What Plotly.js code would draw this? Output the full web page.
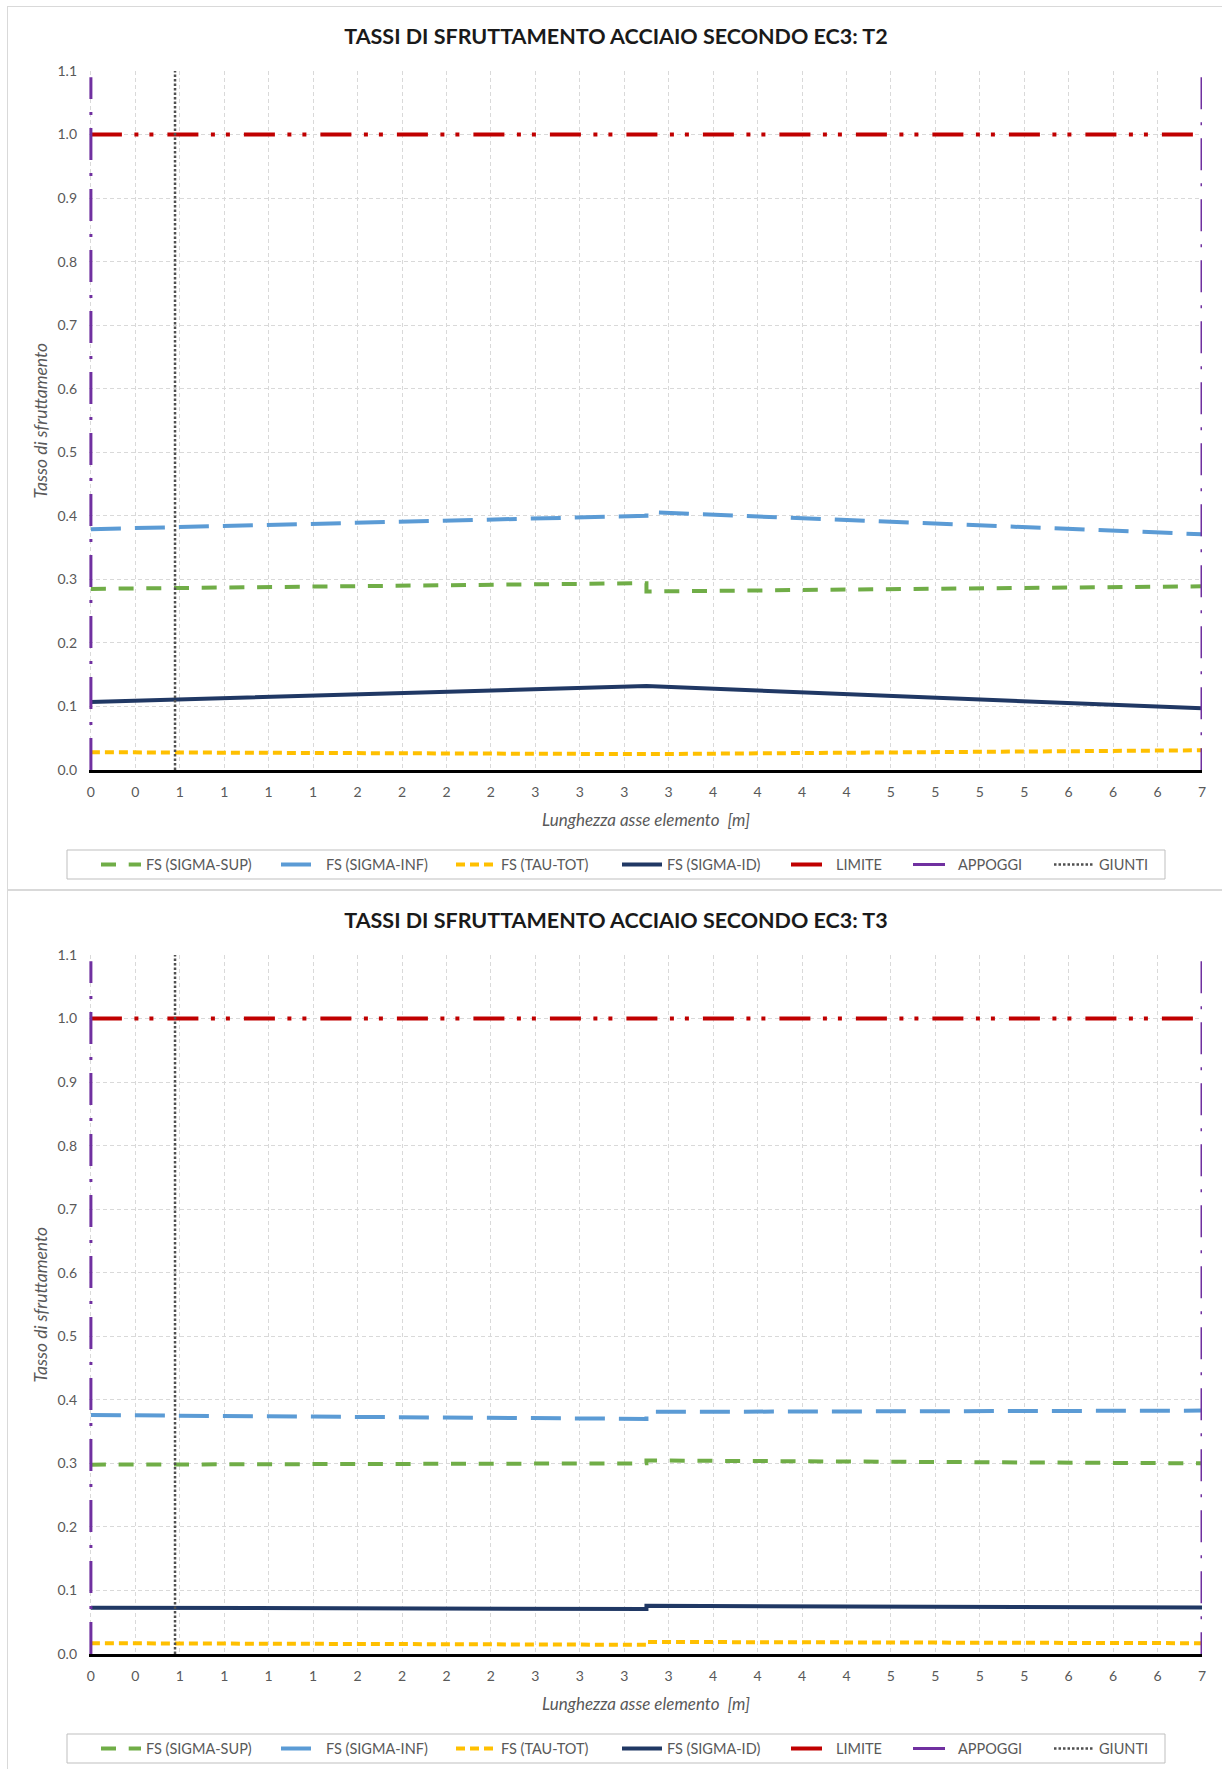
<!DOCTYPE html>
<html>
<head>
<meta charset="utf-8">
<script src="https://cdn.plot.ly/plotly-3.0.1.min.js"></script>
<style>
  html, body { margin: 0; padding: 0; background: #ffffff; width: 1222px; height: 1769px; overflow: hidden; }
  .card { position: absolute; left: 7px; width: 1240px; height: 884px; border: 1px solid #d9d9d9; box-sizing: border-box; }
  .plot { position: absolute; left: 0; width: 1222px; height: 884px; }
</style>
</head>
<body>
<div class="card" style="top:6px"></div>
<div class="card" style="top:890px"></div>
<div id="chartT2" class="plot" style="top:6px"></div>
<div id="chartT3" class="plot" style="top:890px"></div>
<script>
// ---------- DATA ----------
const X_TICK_LABELS = ["0","0","1","1","1","1","2","2","2","2","3","3","3","3","4","4","4","4","5","5","5","5","6","6","6","7"];
const X_LENGTH_M = 7;

// positions along the element [m]
const X_JUMP = [0, 3.5, 3.5, 7];
const X_KINK = [0, 3.5, 7];

// T2
const T2_SIGMA_SUP = [0.285, 0.294, 0.281, 0.289];
const T2_SIGMA_INF = [0.379, 0.400, 0.406, 0.371];
const T2_TAU_TOT   = [0.028, 0.025, 0.031];
const T2_SIGMA_ID  = [0.107, 0.132, 0.097];

// T3
const T3_SIGMA_SUP = [0.298, 0.300, 0.3045, 0.300];
const T3_SIGMA_INF = [0.376, 0.370, 0.381, 0.383];
const T3_TAU_TOT   = [0.017, 0.0145, 0.019, 0.017];
const T3_SIGMA_ID  = [0.0728, 0.0708, 0.0758, 0.073];

// reference lines
const LIMITE_X  = [0, 7];
const LIMITE_Y  = [1.0, 1.0];
const APPOGGI_X = [0, 0, null, 7, 7];
const APPOGGI_Y = [0, 1.09, null, 1.09, 0];
const GIUNTI_X  = [0.53, 0.53];
const GIUNTI_Y  = [0, 1.1];

const SERIES_NAMES = ["FS (SIGMA-SUP)", "FS (SIGMA-INF)", "FS (TAU-TOT)", "FS (SIGMA-ID)", "LIMITE", "APPOGGI", "GIUNTI"];

// ---------- STYLE ----------
const FONT = 'Lato, "Open Sans", "Liberation Sans", sans-serif';
const TXT = '#595959';
const W = 1222, H = 884;
const M = { l: 89, r: 20, t: 65, b: 120, autoexpand: false };
const PW = W - M.l - M.r, PH = H - M.t - M.b;
const px2x = px => (px - M.l) / PW;      // horizontal pixel -> paper
const py2y = py => (H - M.b - py) / PH;   // vertical pixel (div) -> paper

const LEGEND_TEXT_PX = [147, 327, 502, 668, 837, 959, 1100];
const LEGEND_OFFSET = 51;
const LEGEND_Y_PX = 858.5;

function build(divId, title, sup, inf, tau, tauX, id, idX) {
  const traces = [
    { x: X_JUMP, y: sup, line: { color: '#70ad47', width: 4, dash: '15px,12.7px' } },
    { x: X_JUMP, y: inf, line: { color: '#5b9bd5', width: 4, dash: '30px,14px' } },
    { x: tauX, y: tau, line: { color: '#ffc000', width: 4, dash: '9px,5px' } },
    { x: idX, y: id, line: { color: '#203864', width: 4 } },
    { x: LIMITE_X, y: LIMITE_Y, line: { color: '#c00000', width: 4, dash: '31px,12.5px,4px,11px,4px,14px' } },
    { x: APPOGGI_X, y: APPOGGI_Y, line: { color: '#7030a0', width: 3, dash: '32px,13px,3px,13px' } },
    { x: GIUNTI_X, y: GIUNTI_Y, line: { color: '#505050', width: 2.5, dash: '2.5px,2px' } }
  ].map((t, i) => Object.assign(t, {
    type: 'scatter', mode: 'lines', name: SERIES_NAMES[i],
    legend: i === 0 ? 'legend' : 'legend' + (i + 1),
    hoverinfo: 'skip', connectgaps: false
  }));

  const tickvals = X_TICK_LABELS.map((_, i) => i * X_LENGTH_M / (X_TICK_LABELS.length - 1));

  const layout = {
    width: W, height: H,
    margin: M,
    paper_bgcolor: 'rgba(0,0,0,0)',
    plot_bgcolor: 'rgba(0,0,0,0)',
    font: { family: FONT, size: 14, color: TXT },
    title: {
      text: title, font: { family: FONT, size: 21.5, color: '#1a1a1a', weight: 'bold' },
      xref: 'container', x: 616 / W, xanchor: 'center',
      yref: 'container', y: 1 - 30 / H, yanchor: 'middle'
    },
    xaxis: {
      range: [-0.012, X_LENGTH_M], tickmode: 'array', tickvals: tickvals, ticktext: X_TICK_LABELS,
      showgrid: true, gridcolor: '#d9d9d9', griddash: '4px,3px', gridwidth: 1,
      zeroline: false, showline: true, linecolor: '#000000', linewidth: 3,
      ticks: '', ticklabelstandoff: 7, tickfont: { size: 14, color: TXT }, fixedrange: true, automargin: false
    },
    yaxis: {
      range: [0, 1.1], tickmode: 'linear', tick0: 0, dtick: 0.1, tickformat: '.1f',
      showgrid: true, gridcolor: '#d9d9d9', griddash: '4px,3px', gridwidth: 1,
      zeroline: false, showline: false, ticks: '', ticklabelstandoff: 11,
      tickfont: { size: 14, color: TXT }, fixedrange: true, automargin: false
    },
    annotations: [
      { text: '<i>Lunghezza asse elemento  [m]</i>', xref: 'paper', yref: 'paper', x: px2x(646), y: 0,
        yshift: -49, showarrow: false, xanchor: 'center', yanchor: 'middle', font: { size: 17, color: TXT } },
      { text: '<i>Tasso di sfruttamento</i>', xref: 'paper', yref: 'paper', x: 0, y: 0.5,
        xshift: -49, textangle: -90, showarrow: false, xanchor: 'center', yanchor: 'middle', font: { size: 17.5, color: TXT } }
    ],
    shapes: [
      { type: 'rect', xref: 'paper', yref: 'paper', x0: px2x(67), x1: px2x(1165), y0: py2y(844), y1: py2y(873),
        line: { color: '#bfbfbf', width: 1 }, fillcolor: 'rgba(0,0,0,0)', layer: 'below' }
    ],
    showlegend: true
  };
  LEGEND_TEXT_PX.forEach((px, i) => {
    const key = i === 0 ? 'legend' : 'legend' + (i + 1);
    layout[key] = {
      x: px2x(px - LEGEND_OFFSET), xanchor: 'left', xref: 'paper',
      y: py2y(LEGEND_Y_PX), yanchor: 'middle', yref: 'paper',
      orientation: 'h', bgcolor: 'rgba(0,0,0,0)', borderwidth: 0,
      font: { family: FONT, size: 14.5, color: TXT }, itemwidth: 40
    };
  });
  Plotly.newPlot(divId, traces, layout, { staticPlot: true, displayModeBar: false });
}

build('chartT2', 'TASSI DI SFRUTTAMENTO ACCIAIO SECONDO EC3: T2',
  T2_SIGMA_SUP, T2_SIGMA_INF, T2_TAU_TOT, X_KINK, T2_SIGMA_ID, X_KINK);
build('chartT3', 'TASSI DI SFRUTTAMENTO ACCIAIO SECONDO EC3: T3',
  T3_SIGMA_SUP, T3_SIGMA_INF, T3_TAU_TOT, X_JUMP, T3_SIGMA_ID, X_JUMP);
</script>
</body>
</html>
